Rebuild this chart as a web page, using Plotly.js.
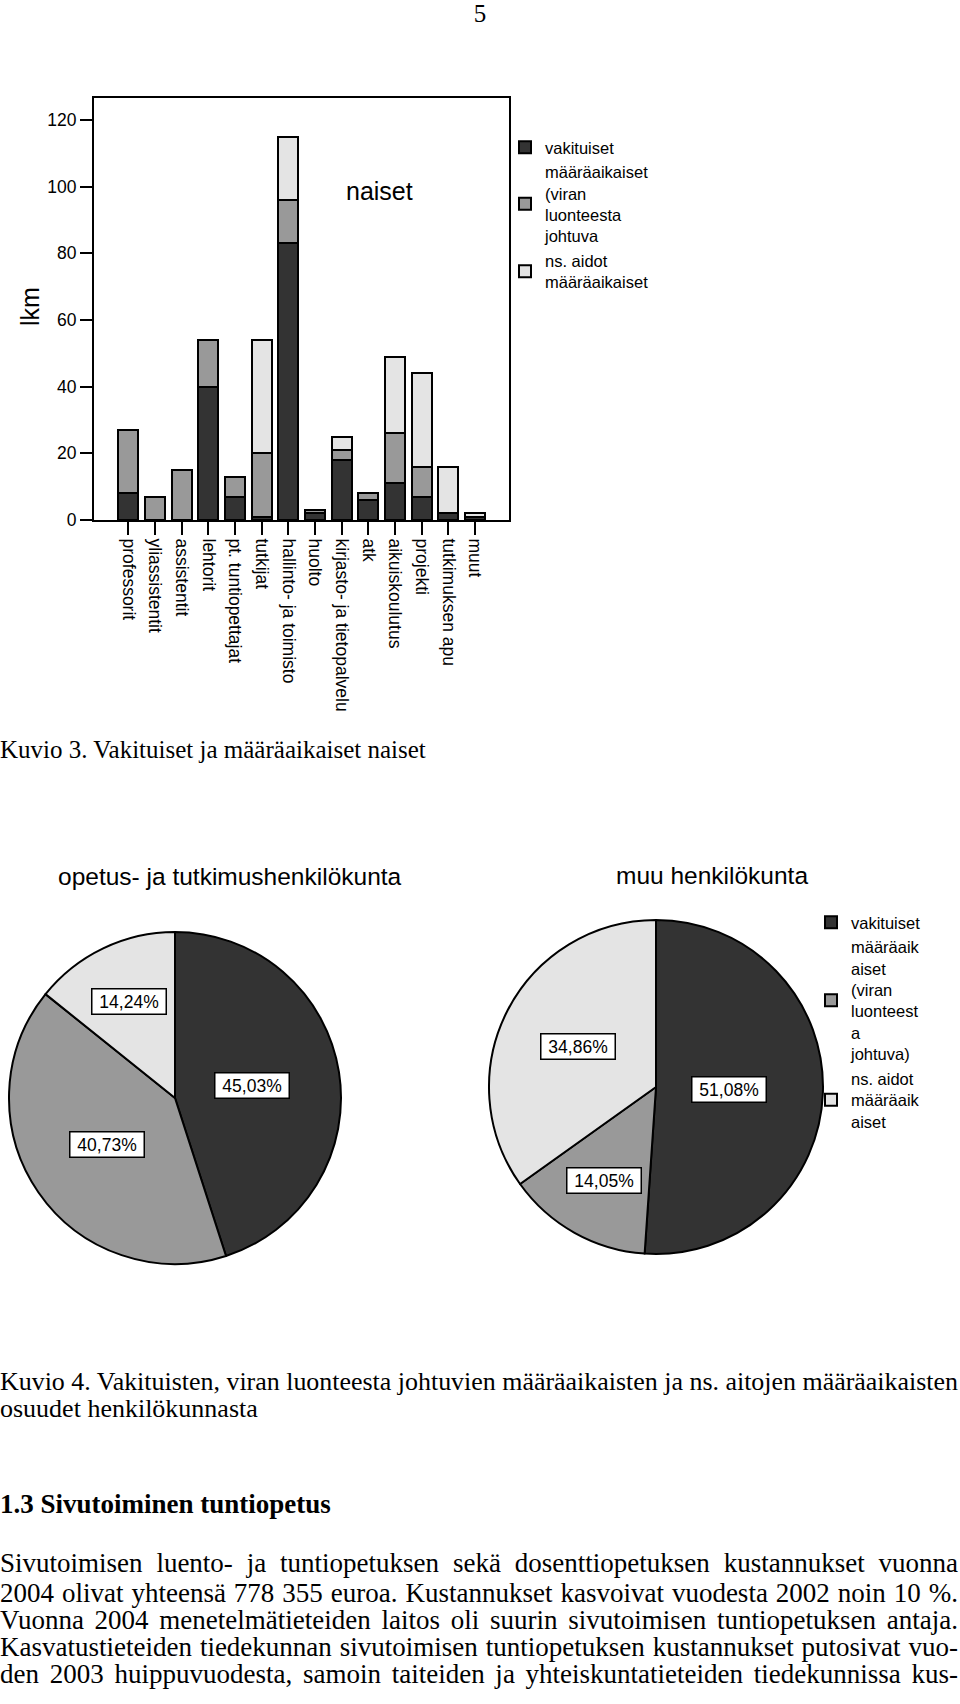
<!DOCTYPE html>
<html>
<head>
<meta charset="utf-8">
<script src="https://cdn.plot.ly/plotly-3.0.1.min.js"></script>
<style>
  html, body { margin: 0; padding: 0; background: #fff; }
  #page { position: relative; width: 960px; height: 1704px; overflow: hidden; background: #fff; }
  #chart { position: absolute; left: 0; top: 0; width: 960px; height: 1704px; }
  .tl { position: absolute; left: 0; width: 960px; height: 28px; line-height: 28px; white-space: nowrap;
        font-family: "Liberation Serif", "Times New Roman", serif; font-size: 26px; color: #000; pointer-events: none; }
  .tl span { display: inline-block; transform-origin: 0 50%; }
</style>
</head>
<body>
<div id="page">
  <div id="chart"></div>
</div>
<script>
// ---------------- data ----------------
const categories = ['professorit', 'yliassistentit', 'assistentit', 'lehtorit', 'pt. tuntiopettajat', 'tutkijat',
  'hallinto- ja toimisto', 'huolto', 'kirjasto- ja tietopalvelu', 'atk', 'aikuiskoulutus', 'projekti',
  'tutkimuksen apu', 'muut'];
const vakituiset   = [8, 0, 0, 40, 7, 1, 83, 2, 18, 6, 11, 7, 2, 1];
const maaraViran   = [19, 7, 15, 14, 6, 19, 13, 1, 3, 2, 15, 9, 0, 0];
const aidotMaara   = [0, 0, 0, 0, 0, 34, 19, 0, 4, 0, 23, 28, 14, 1];
const barSeriesNames = ['vakituiset', 'määräaikaiset<br>(viran<br>luonteesta<br>johtuva', 'ns. aidot<br>määräaikaiset'];
const yTicks = [0, 20, 40, 60, 80, 100, 120];

const pieLabels = ['vakituiset', 'määräaik<br>aiset<br>(viran<br>luonteest<br>a<br>johtuva)', 'ns. aidot<br>määräaik<br>aiset'];
const pieOpetus = [45.03, 40.73, 14.24];
const pieMuu    = [51.08, 14.05, 34.86];
const pieTitles = ['opetus- ja tutkimushenkilökunta', 'muu henkilökunta'];

const pageNumber = '5';
const caption3 = 'Kuvio 3. Vakituiset ja määräaikaiset naiset';
const caption4 = ['Kuvio 4. Vakituisten, viran luonteesta johtuvien määräaikaisten ja ns. aitojen määräaikaisten',
                  'osuudet henkilökunnasta'];
const heading = '1.3 Sivutoiminen tuntiopetus';
const bodyLines = [
  'Sivutoimisen luento- ja tuntiopetuksen sekä dosenttiopetuksen kustannukset vuonna',
  '2004 olivat yhteensä 778 355 euroa. Kustannukset kasvoivat vuodesta 2002 noin 10 %.',
  'Vuonna 2004 menetelmätieteiden laitos oli suurin sivutoimisen tuntiopetuksen antaja.',
  'Kasvatustieteiden tiedekunnan sivutoimisen tuntiopetuksen kustannukset putosivat vuo-',
  'den 2003 huippuvuodesta, samoin taiteiden ja yhteiskuntatieteiden tiedekunnissa kus-'
];

// ---------------- layout helpers ----------------
const W = 960, H = 1704;
const px = x => x / W;
const py = y => 1 - y / H;
const colors = ['#333333', '#999999', '#e4e4e4'];
const SANS = 'Liberation Sans, Arial, sans-serif';

const barData = [vakituiset, maaraViran, aidotMaara];
const traces = barData.map((vals, i) => ({
  type: 'bar', x: categories, y: vals, name: barSeriesNames[i],
  width: 0.75, marker: { color: colors[i], line: { color: '#000', width: 2 } },
  xaxis: 'x', yaxis: 'y', legend: 'legend', hoverinfo: 'skip'
}));

const domA = { x: [px(9), px(341)], y: [py(1264), py(932)] };
const domB = { x: [px(489), px(823)], y: [py(1254), py(920)] };
[[pieOpetus, domA], [pieMuu, domB]].forEach(([vals, dom]) => {
  traces.push({
    type: 'pie', labels: pieLabels, values: vals, domain: dom, sort: false,
    direction: 'clockwise', rotation: 0, textinfo: 'none', hoverinfo: 'skip',
    marker: { colors: colors, line: { color: '#000', width: 2 } },
    legend: 'legend2', showlegend: true
  });
});

const annotations = [];
function note(text, x, y, size, extra) {
  annotations.push(Object.assign({ text: text, x: px(x), y: py(y), xref: 'paper', yref: 'paper',
    xanchor: 'center', yanchor: 'middle', showarrow: false,
    font: { family: SANS, size: size, color: '#000' } }, extra || {}));
}
note('naiset', 379, 191, 25);
note('lkm', 30, 307, 25, { textangle: -90 });
note(pieTitles[0], 230, 876, 24.5);
note(pieTitles[1], 712, 875, 24.5);

function pieValueLabels(vals, dom) {
  const x0 = dom.x[0] * W, x1 = dom.x[1] * W;
  const yTop = (1 - dom.y[1]) * H, yBot = (1 - dom.y[0]) * H;
  const cx = (x0 + x1) / 2, cy = (yTop + yBot) / 2;
  const r = Math.min(x1 - x0, yBot - yTop) / 2;
  const total = vals.reduce((a, b) => a + b, 0);
  let cum = 0;
  vals.forEach(v => {
    const frac = v / total;
    const th = (cum + frac / 2) * 2 * Math.PI;
    cum += frac;
    const f = 0.72 - 0.55 * frac;
    const lx = cx + r * f * Math.sin(th);
    const ly = cy - r * f * Math.cos(th);
    note('&nbsp;' + v.toFixed(2).replace('.', ',') + '%&nbsp;', lx, ly, 17.5,
      { bgcolor: '#fff', bordercolor: '#000', borderwidth: 1.5, borderpad: 2 });
  });
}
pieValueLabels(pieOpetus, domA);
pieValueLabels(pieMuu, domB);

const layout = {
  width: W, height: H, margin: { l: 0, r: 0, t: 0, b: 0 },
  paper_bgcolor: '#fff', plot_bgcolor: '#fff',
  font: { family: SANS, color: '#000', size: 17 },
  barmode: 'stack', bargap: 0.25,
  xaxis: {
    domain: [px(94), px(509)], anchor: 'y', type: 'category', range: [-1.29, 14.27],
    showline: true, linecolor: '#000', linewidth: 2, mirror: true, showgrid: false, zeroline: false,
    ticks: 'outside', ticklen: 13, tickwidth: 2, tickcolor: '#000', tickangle: 90,
    tickfont: { family: SANS, size: 17.5, color: '#000' }
  },
  yaxis: {
    domain: [py(520), py(98)], anchor: 'x', range: [0, 126.6],
    showline: true, linecolor: '#000', linewidth: 2, mirror: true, showgrid: false, zeroline: false,
    ticks: 'outside', ticklen: 12, tickwidth: 2, tickcolor: '#000', tickmode: 'array', tickvals: yTicks,
    tickfont: { family: SANS, size: 17.5, color: '#000' }
  },
  legend: { x: px(505), xanchor: 'left', y: py(130), yanchor: 'top', traceorder: 'normal',
    bgcolor: 'rgba(0,0,0,0)', font: { family: SANS, size: 16.5, color: '#000' }, tracegroupgap: 0 },
  legend2: { x: px(811), xanchor: 'left', y: py(905), yanchor: 'top', traceorder: 'normal',
    bgcolor: 'rgba(0,0,0,0)', font: { family: SANS, size: 16.5, color: '#000' }, tracegroupgap: 0 },
  annotations: annotations,
  showlegend: true
};

Plotly.newPlot('chart', traces, layout, { staticPlot: true, displayModeBar: false });

// ---------------- page text ----------------
const page = document.getElementById('page');
function addLine(txt, yc, opts) {
  opts = opts || {};
  const d = document.createElement('div');
  d.className = 'tl';
  d.style.top = (yc - 14) + 'px';
  if (opts.size) d.style.fontSize = opts.size + 'px';
  if (opts.bold) d.style.fontWeight = 'bold';
  if (opts.center) d.style.textAlign = 'center';
  const s = document.createElement('span');
  s.textContent = txt;
  d.appendChild(s);
  page.appendChild(d);
  const w = s.getBoundingClientRect().width;
  if (opts.justify) {
    const n = (txt.match(/ /g) || []).length;
    const extra = W - 2 - w;
    if (extra >= 0 && n) s.style.wordSpacing = (extra / n) + 'px';
    else if (extra < 0) s.style.transform = 'scaleX(' + ((W - 2) / w) + ')';
  }
}
addLine(pageNumber, 14, { center: true, size: 25 });
addLine(caption3, 750, { size: 25 });
addLine(caption4[0], 1382, { justify: true, size: 26 });
addLine(caption4[1], 1409, { size: 26 });
addLine(heading, 1504, { bold: true, size: 27 });
const bodyY = [1563, 1593, 1620, 1647, 1674, 1699];
bodyLines.forEach((t, i) => addLine(t, bodyY[i], { justify: true, size: 27 }));
</script>
</body>
</html>
